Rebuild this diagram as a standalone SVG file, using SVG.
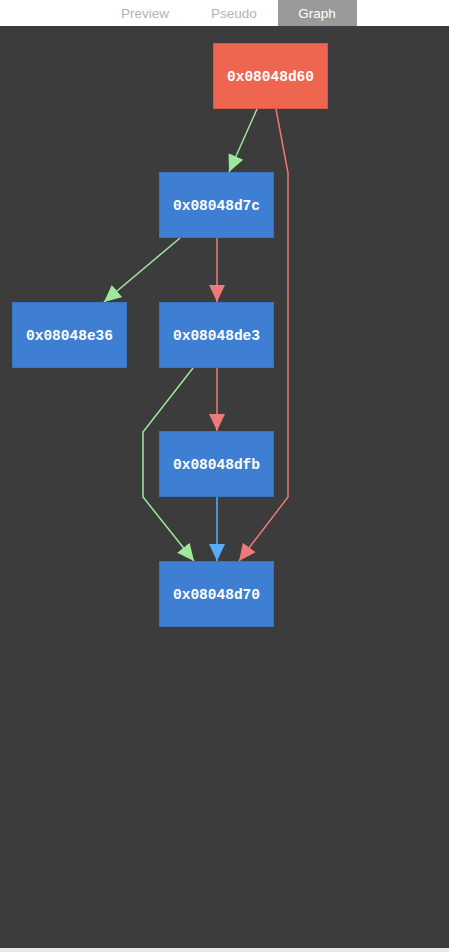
<svg xmlns="http://www.w3.org/2000/svg" width="449" height="952" viewBox="0 0 449 952">
  <style>
    .tab { font-family: "Liberation Sans", Arial, sans-serif; font-size: 13.5px; text-anchor: middle; }
    .node rect { stroke-width: 1; }
    .blk rect { fill: #3f7fd3; stroke: #3a74c0; }
    .entry rect { fill: #ee664f; stroke: #d85a45; }
    .node text { font-family: "Liberation Mono", "Courier New", monospace; font-weight: bold; font-size: 14.5px; fill: #ffffff; text-anchor: middle; }
    .edge { fill: none; stroke-width: 1.5; }
    .t { stroke: #9ee89a; }
    .f { stroke: #ec7a78; }
    .u { stroke: #5aabf5; }
  </style>
  <defs>
    <marker id="ah-t" markerUnits="userSpaceOnUse" markerWidth="18" markerHeight="18" viewBox="0 0 18 18" refX="17" refY="9" orient="auto">
      <path d="M0,1 L17,9 L0,17 Z" fill="#9ee89a"/>
    </marker>
    <marker id="ah-f" markerUnits="userSpaceOnUse" markerWidth="18" markerHeight="18" viewBox="0 0 18 18" refX="17" refY="9" orient="auto">
      <path d="M0,1 L17,9 L0,17 Z" fill="#ec7a78"/>
    </marker>
    <marker id="ah-u" markerUnits="userSpaceOnUse" markerWidth="18" markerHeight="18" viewBox="0 0 18 18" refX="17" refY="9" orient="auto">
      <path d="M0,1 L17,9 L0,17 Z" fill="#5aabf5"/>
    </marker>
  </defs>

  <!-- header bar with view tabs -->
  <rect x="0" y="0" width="449" height="26" fill="#ffffff"/>
  <rect x="278" y="0" width="79" height="26" fill="#9a9a9a"/>
  <text class="tab" x="145" y="18" fill="#b4b4b4">Preview</text>
  <text class="tab" x="234" y="18" fill="#b4b4b4">Pseudo</text>
  <text class="tab" x="317" y="18" fill="#ffffff">Graph</text>

  <!-- canvas -->
  <rect x="0" y="26" width="449" height="922" fill="#3c3c3c"/>
  <rect x="0" y="948" width="449" height="4" fill="#e9e9e9"/>

  <g id="edges">
    <path class="edge t" d="M257,109 L229,172" marker-end="url(#ah-t)"/>
    <path class="edge f" d="M276,109 L288,173 L288,497 L239,561" marker-end="url(#ah-f)"/>
    <path class="edge t" d="M180,238 L104,302" marker-end="url(#ah-t)"/>
    <path class="edge f" d="M217,238 L217,302" marker-end="url(#ah-f)"/>
    <path class="edge t" d="M193,368 L143,432 L143,497 L194,561" marker-end="url(#ah-t)"/>
    <path class="edge f" d="M217,368 L217,431" marker-end="url(#ah-f)"/>
    <path class="edge u" d="M217,497 L217,561" marker-end="url(#ah-u)"/>
  </g>

  <g id="n-08048d60" class="node entry">
    <rect x="213.5" y="43.5" width="114" height="65"/>
    <text x="270.5" y="81">0x08048d60</text>
  </g>
  <g id="n-08048d7c" class="node blk">
    <rect x="159.5" y="172.5" width="114" height="65"/>
    <text x="216.5" y="210">0x08048d7c</text>
  </g>
  <g id="n-08048e36" class="node blk">
    <rect x="12.5" y="302.5" width="114" height="65"/>
    <text x="69.5" y="340">0x08048e36</text>
  </g>
  <g id="n-08048de3" class="node blk">
    <rect x="159.5" y="302.5" width="114" height="65"/>
    <text x="216.5" y="340">0x08048de3</text>
  </g>
  <g id="n-08048dfb" class="node blk">
    <rect x="159.5" y="431.5" width="114" height="65"/>
    <text x="216.5" y="469">0x08048dfb</text>
  </g>
  <g id="n-08048d70" class="node blk">
    <rect x="159.5" y="561.5" width="114" height="65"/>
    <text x="216.5" y="599">0x08048d70</text>
  </g>
</svg>
